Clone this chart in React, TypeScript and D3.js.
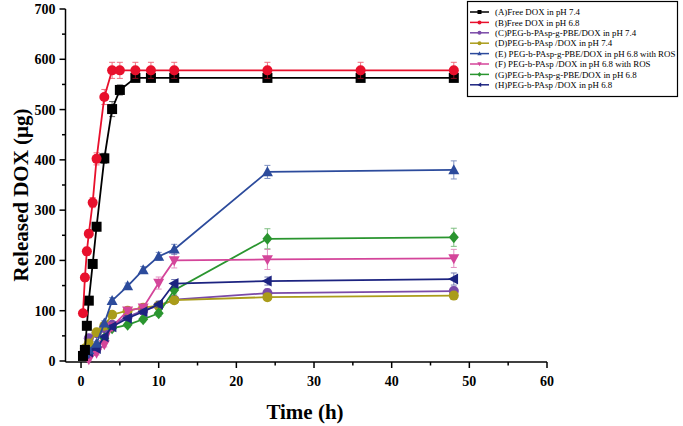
import React from "react";
import * as d3 from "d3";

const timesFree = [0.25, 0.5, 0.75, 1, 1.5, 2, 3, 4, 5, 7, 9, 12, 24, 36, 48];
const valuesA = [10, 22, 70, 120, 193, 267, 403, 501, 539, 563, 563, 563, 563, 563, 563];
const errorsA = [3, 4, 5, 6, 6, 8, 10, 15, 10, 6, 6, 6, 6, 6, 6];
const valuesB = [95, 166, 218, 253, 315, 402, 525, 578, 578, 578, 578, 578, 578, 578, 578];
const errorsB = [5, 8, 8, 8, 10, 12, 15, 16, 16, 16, 16, 16, 16, 16, 16];

const timesNano = [0.5, 1, 2, 3, 4, 6, 8, 10, 12, 24, 48];
const valuesC = [20, 45, 55, 65, 72, 88, 100, 110, 122, 135, 139];
const errorsC = [3, 4, 4, 4, 4, 5, 5, 5, 6, 8, 8];
const valuesD = [25, 35, 57, 70, 92, 100, 106, 110, 121, 127, 130];
const errorsD = [3, 4, 4, 4, 5, 5, 5, 5, 6, 7, 7];
const valuesE = [15, 22, 35, 75, 120, 149, 181, 208, 222, 376, 380];
const errorsE = [3, 3, 4, 5, 6, 6, 7, 8, 10, 13, 18];
const valuesF = [12, 3, 16, 33, 68, 100, 106, 155, 200, 202, 204];
const errorsF = [3, 3, 4, 5, 5, 6, 6, 12, 15, 20, 18];
const valuesG = [12, 15, 28, 45, 65, 72, 83, 95, 141, 243, 246];
const errorsG = [3, 3, 4, 4, 5, 5, 5, 6, 8, 20, 18];
const valuesH = [15, 18, 25, 48, 68, 85, 98, 113, 154, 159, 163];
const errorsH = [3, 3, 4, 4, 5, 5, 5, 6, 8, 8, 12];

const legendLabels = [
  "(A)Free DOX in pH 7.4",
  "(B)Free DOX in pH 6.8",
  "(C)PEG-b-PAsp-g-PBE/DOX in pH 7.4",
  "(D)PEG-b-PAsp /DOX in pH 7.4",
  "(E) PEG-b-PAsp-g-PBE/DOX in pH 6.8 with ROS",
  "(F) PEG-b-PAsp /DOX in pH 6.8 with ROS",
  "(G)PEG-b-PAsp-g-PBE/DOX in pH 6.8",
  "(H)PEG-b-PAsp /DOX in pH 6.8",
];

const xTicks = [0, 10, 20, 30, 40, 50, 60];
const yTicks = [0, 100, 200, 300, 400, 500, 600, 700];

type Series = {
  t: number[];
  v: number[];
  e: number[];
  color: string;
  marker: string;
};

const series: Series[] = [
  { t: timesNano, v: valuesC, e: errorsC, color: "#7a4aa8", marker: "circle" },
  { t: timesNano, v: valuesD, e: errorsD, color: "#aa9c1a", marker: "circle" },
  { t: timesNano, v: valuesG, e: errorsG, color: "#2a952f", marker: "diamond" },
  { t: timesNano, v: valuesF, e: errorsF, color: "#d4459a", marker: "down" },
  { t: timesNano, v: valuesH, e: errorsH, color: "#1c2380", marker: "left" },
  { t: timesNano, v: valuesE, e: errorsE, color: "#2c4b9c", marker: "up" },
  { t: timesFree, v: valuesA, e: errorsA, color: "#000000", marker: "square" },
  { t: timesFree, v: valuesB, e: errorsB, color: "#e8102c", marker: "circle" },
];

const legendSeries = [6, 7, 0, 1, 5, 3, 2, 4];

function Marker({ type, x, y, size, color }: { type: string; x: number; y: number; size: number; color: string }) {
  const s = size / 2;
  if (type === "circle") return <circle cx={x} cy={y} r={s} fill={color} />;
  if (type === "square") return <rect x={x - s} y={y - s} width={size} height={size} fill={color} />;
  let pts: number[][] = [];
  if (type === "diamond") pts = [[x, y - s * 1.2], [x + s, y], [x, y + s * 1.2], [x - s, y]];
  if (type === "up") pts = [[x, y - s * 1.15], [x + s * 1.1, y + s * 0.85], [x - s * 1.1, y + s * 0.85]];
  if (type === "down") pts = [[x, y + s * 1.15], [x + s * 1.1, y - s * 0.85], [x - s * 1.1, y - s * 0.85]];
  if (type === "left") pts = [[x - s * 1.15, y], [x + s * 0.85, y - s * 1.1], [x + s * 0.85, y + s * 1.1]];
  return <polygon points={pts.map((p) => p.join(",")).join(" ")} fill={color} />;
}

export default function App() {
  const W = 683;
  const H = 426;
  const x = d3.scaleLinear().domain([-2, 60]).range([65.5, 547]);
  const y = d3.scaleLinear().domain([-2, 700]).range([362, 9]);
  const x0 = 65.5;
  const y0 = 362;
  const line = d3
    .line<[number, number]>()
    .x((d) => x(d[0]))
    .y((d) => y(d[1]));
  const xMinor = d3.range(5, 60, 10);
  const yMinor = d3.range(50, 700, 100);
  const font = "'Liberation Serif', 'Times New Roman', serif";

  return (
    <svg width={W} height={H} style={{ position: "absolute", left: 0, top: 0, background: "#fff" }} fontFamily={font}>
      {/* axes */}
      <line x1={x0} y1={y0} x2={x(60)} y2={y0} stroke="#000" strokeWidth={1.5} />
      <line x1={x0} y1={y0} x2={x0} y2={y(700)} stroke="#000" strokeWidth={1.5} />
      {xTicks.map((t) => (
        <g key={"xt" + t}>
          <line x1={x(t)} x2={x(t)} y1={y0} y2={y0 + 6} stroke="#000" strokeWidth={1.5} />
          <text x={x(t)} y={y0 + 24} textAnchor="middle" fontSize={14} fontWeight="bold">
            {t}
          </text>
        </g>
      ))}
      {xMinor.map((t) => (
        <line key={"xm" + t} x1={x(t)} x2={x(t)} y1={y0} y2={y0 + 3.5} stroke="#000" strokeWidth={1.5} />
      ))}
      {yTicks.map((v) => (
        <g key={"yt" + v}>
          <line x1={x0 - 6} x2={x0} y1={y(v)} y2={y(v)} stroke="#000" strokeWidth={1.5} />
          <text x={x0 - 10} y={y(v) + 5} textAnchor="end" fontSize={14} fontWeight="bold">
            {v}
          </text>
        </g>
      ))}
      {yMinor.map((v) => (
        <line key={"ym" + v} x1={x0 - 3.5} x2={x0} y1={y(v)} y2={y(v)} stroke="#000" strokeWidth={1.5} />
      ))}
      <text x={305} y={419} textAnchor="middle" fontSize={21} fontWeight="bold">
        Time (h)
      </text>
      <text transform={`translate(28,195) rotate(-90)`} textAnchor="middle" fontSize={21} fontWeight="bold">
        Released DOX (μg)
      </text>

      {/* series */}
      {series.map((s, i) => {
        const pts = s.t.map((t, j) => [t, s.v[j]] as [number, number]);
        return (
          <g key={"s" + i}>
            <path d={line(pts) || ""} fill="none" stroke={s.color} strokeWidth={1.8} />
            {pts.map((p, j) => (
              <g key={j} stroke={s.color} strokeWidth={1} opacity={0.6}>
                <line x1={x(p[0])} x2={x(p[0])} y1={y(p[1] - s.e[j])} y2={y(p[1] + s.e[j])} />
                <line x1={x(p[0]) - 3} x2={x(p[0]) + 3} y1={y(p[1] + s.e[j])} y2={y(p[1] + s.e[j])} />
                <line x1={x(p[0]) - 3} x2={x(p[0]) + 3} y1={y(p[1] - s.e[j])} y2={y(p[1] - s.e[j])} />
              </g>
            ))}
            {pts.map((p, j) => (
              <Marker key={"m" + j} type={s.marker} x={x(p[0])} y={y(p[1])} size={10} color={s.color} />
            ))}
          </g>
        );
      })}

      {/* legend */}
      <rect x={467.5} y={1.5} width={210} height={95} fill="#fff" stroke="#000" strokeWidth={1.2} />
      {legendLabels.map((lab, i) => {
        const s = series[legendSeries[i]];
        const ly = 12 + i * 10.4;
        return (
          <g key={"lg" + i}>
            <line x1={470} x2={489} y1={ly} y2={ly} stroke={s.color} strokeWidth={1.5} />
            <Marker type={s.marker} x={479.5} y={ly} size={4} color={s.color} />
            <text x={495} y={ly + 3.2} fontSize={8.9}>
              {lab}
            </text>
          </g>
        );
      })}
    </svg>
  );
}
